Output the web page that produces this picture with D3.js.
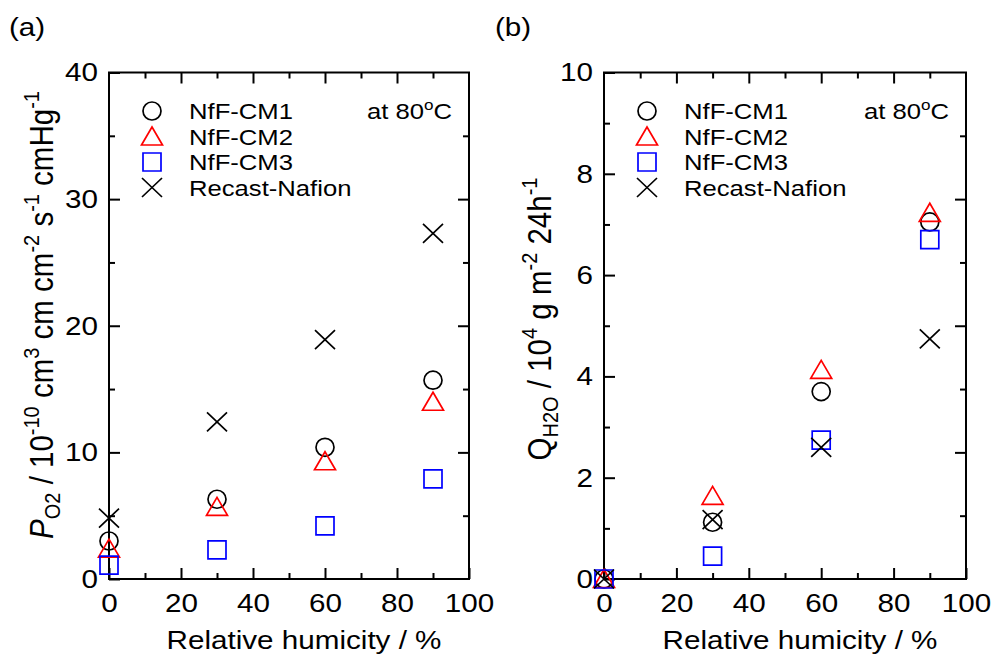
<!DOCTYPE html>
<html>
<head>
<meta charset="utf-8">
<script src="https://cdn.jsdelivr.net/npm/d3@7"></script>
<style>
  body { margin: 0; background: #fff; }
  svg { font-family: "Liberation Sans", Arial, sans-serif; }
</style>
</head>
<body>
<script>
// relative humidity (%) used for every series
const rh = [0, 30, 60, 90];
const seriesNames = ["NfF-CM1", "NfF-CM2", "NfF-CM3", "Recast-Nafion"];

// (a) oxygen permeability, 10^-10 cm3 cm cm-2 s-1 cmHg-1
const pO2_CM1 = [3.0, 6.3, 10.4, 15.7];
const pO2_CM2 = [2.4, 5.7, 9.3, 14.0];
const pO2_CM3 = [1.1, 2.3, 4.2, 7.9];
const pO2_Recast = [4.8, 12.4, 18.9, 27.3];

// (b) water vapour transmission, 10^4 g m-2 24h-1
const qH2O_CM1 = [0, 1.12, 3.7, 7.05];
const qH2O_CM2 = [0, 1.64, 4.13, 7.23];
const qH2O_CM3 = [0, 0.45, 2.74, 6.7];
const qH2O_Recast = [0, 1.17, 2.6, 4.74];

const W = 994, H = 657;
const SX = 1.14; // the figure is slightly wide-stretched
const markerKind = ["circle", "triangle", "square", "cross"];
const markerColor = ["#000", "#ff0000", "#0000ff", "#000"];

const svg = d3.select("body").append("svg")
    .attr("width", W).attr("height", H);

function markerPath(kind) {
    const p = d3.path();
    if (kind == "circle") {
        p.arc(0, 0, 9, 0, 2 * Math.PI);
    } else if (kind == "triangle") {
        p.moveTo(0, -9.5); p.lineTo(10.5, 8.5); p.lineTo(-10.5, 8.5); p.closePath();
    } else if (kind == "square") {
        p.rect(-9, -9, 18, 18);
    } else {
        p.moveTo(-10, -9.5); p.lineTo(10, 9.5);
        p.moveTo(10, -9.5); p.lineTo(-10, 9.5);
    }
    return p.toString();
}

function drawPanel(opt) {
    const x = d3.scaleLinear().domain([0, 100]).range([opt.left, opt.right]);
    const y = d3.scaleLinear().domain([0, opt.ymax]).range([opt.bottom, opt.top]);
    const yRight = d3.scaleLinear().domain([0, 40]).range([opt.bottom, opt.top]);
    const g = svg.append("g");

    const styleAxis = sel => {
        sel.select(".domain").remove();
        sel.selectAll("line").attr("stroke", "#000").attr("stroke-width", 2);
        sel.selectAll("text").attr("font-size", 26).attr("fill", "#000")
            .attr("transform", `scale(${SX},1)`);
    };

    // bottom
    g.append("g").attr("transform", `translate(0,${opt.bottom})`)
        .call(d3.axisBottom(x).tickValues(d3.range(10, 100, 20)).tickSize(-6).tickFormat(""))
        .call(styleAxis);
    g.append("g").attr("transform", `translate(0,${opt.bottom})`)
        .call(d3.axisBottom(x).tickValues(d3.range(0, 101, 20)).tickSize(-11).tickPadding(15))
        .call(styleAxis);
    // top
    g.append("g").attr("transform", `translate(0,${opt.top})`)
        .call(d3.axisTop(x).tickValues(d3.range(10, 100, 20)).tickSize(-6).tickFormat(""))
        .call(styleAxis);
    g.append("g").attr("transform", `translate(0,${opt.top})`)
        .call(d3.axisTop(x).tickValues(d3.range(20, 100, 20)).tickSize(-11).tickFormat(""))
        .call(styleAxis);
    // left
    g.append("g").attr("transform", `translate(${opt.left},0)`)
        .call(d3.axisLeft(y).tickValues(opt.minorY).tickSize(-6).tickFormat(""))
        .call(styleAxis);
    g.append("g").attr("transform", `translate(${opt.left},0)`)
        .call(d3.axisLeft(y).tickValues(opt.majorY).tickSize(-11).tickPadding(11 / SX))
        .call(styleAxis);
    // right (0-40 scale in both panels)
    g.append("g").attr("transform", `translate(${opt.right},0)`)
        .call(d3.axisRight(yRight).tickValues([5, 15, 25, 35]).tickSize(-6).tickFormat(""))
        .call(styleAxis);
    g.append("g").attr("transform", `translate(${opt.right},0)`)
        .call(d3.axisRight(yRight).tickValues([10, 20, 30]).tickSize(-11).tickFormat(""))
        .call(styleAxis);

    // frame
    g.append("rect")
        .attr("x", opt.left).attr("y", opt.top)
        .attr("width", opt.right - opt.left).attr("height", opt.bottom - opt.top)
        .attr("fill", "none").attr("stroke", "#000").attr("stroke-width", 2);

    // points
    opt.data.forEach((vals, i) => {
        g.append("g").selectAll("path")
            .data(vals.map((v, j) => [rh[j], v]))
            .join("path")
            .attr("d", markerPath(markerKind[i]))
            .attr("transform", d => `translate(${x(d[0])},${y(d[1])})`)
            .attr("fill", "none")
            .attr("stroke", markerColor[i])
            .attr("stroke-width", 1.7);
    });

    // legend
    seriesNames.forEach((name, i) => {
        const ly = 111 + i * 25.5;
        g.append("path")
            .attr("d", markerPath(markerKind[i]))
            .attr("transform", `translate(${opt.left + 43},${ly})`)
            .attr("fill", "none").attr("stroke", markerColor[i]).attr("stroke-width", 1.7);
        g.append("text")
            .attr("transform", `translate(${opt.left + 80},${ly + 8}) scale(${SX},1)`)
            .attr("font-size", 22.5)
            .text(name);
    });

    const at = g.append("text")
        .attr("transform", `translate(${opt.right - 17},${119}) scale(${SX},1)`)
        .attr("text-anchor", "end")
        .attr("font-size", 22.5);
    at.append("tspan").text("at 80");
    at.append("tspan").attr("font-size", 15).attr("dy", -9).text("o");
    at.append("tspan").attr("dy", 9).text("C");

    // x title
    g.append("text")
        .attr("transform", `translate(${(opt.left + opt.right) / 2 + 15},${649}) scale(${SX},1)`)
        .attr("text-anchor", "middle")
        .attr("font-size", 26)
        .text("Relative humicity / %");

    // y title
    const yt = g.append("text")
        .attr("transform", `translate(${opt.ytX},${opt.ytY}) scale(${SX},1) rotate(-90)`)
        .attr("text-anchor", "middle")
        .attr("font-size", 29.5);
    opt.yTitle.forEach(part => {
        const t = yt.append("tspan").text(part.t);
        if (part.italic) t.attr("font-style", "italic");
        if (part.sub) t.attr("font-size", 20).attr("dy", 6);
        if (part.sup) t.attr("font-size", 20).attr("dy", -12);
        if (part.back) t.attr("dy", part.back);
    });

    // panel label
    svg.append("text")
        .attr("transform", `translate(${opt.labelX},36) scale(${SX},1)`)
        .attr("font-size", 26)
        .text(opt.label);
}

drawPanel({
    left: 109, right: 469, top: 72.5, bottom: 579,
    ymax: 40, majorY: [0, 10, 20, 30, 40], minorY: [5, 15, 25, 35],
    data: [pO2_CM1, pO2_CM2, pO2_CM3, pO2_Recast],
    ytX: 53, ytY: 315,
    yTitle: [
        {t: "P", italic: true},
        {t: "O2", sub: true},
        {t: " / 10", back: -6},
        {t: "-10", sup: true},
        {t: " cm", back: 12},
        {t: "3", sup: true},
        {t: " cm cm", back: 12},
        {t: "-2", sup: true},
        {t: " s", back: 12},
        {t: "-1", sup: true},
        {t: " cmHg", back: 12},
        {t: "-1", sup: true}
    ],
    label: "(a)", labelX: 9
});

drawPanel({
    left: 604, right: 966, top: 72.5, bottom: 579,
    ymax: 10, majorY: [0, 2, 4, 6, 8, 10], minorY: [1, 3, 5, 7, 9],
    data: [qH2O_CM1, qH2O_CM2, qH2O_CM3, qH2O_Recast],
    ytX: 551, ytY: 319,
    yTitle: [
        {t: "Q"},
        {t: "H2O", sub: true},
        {t: " / 10", back: -6},
        {t: "4", sup: true},
        {t: " g m", back: 12},
        {t: "-2", sup: true},
        {t: " 24h", back: 12},
        {t: "-1", sup: true}
    ],
    label: "(b)", labelX: 495
});
</script>
</body>
</html>
